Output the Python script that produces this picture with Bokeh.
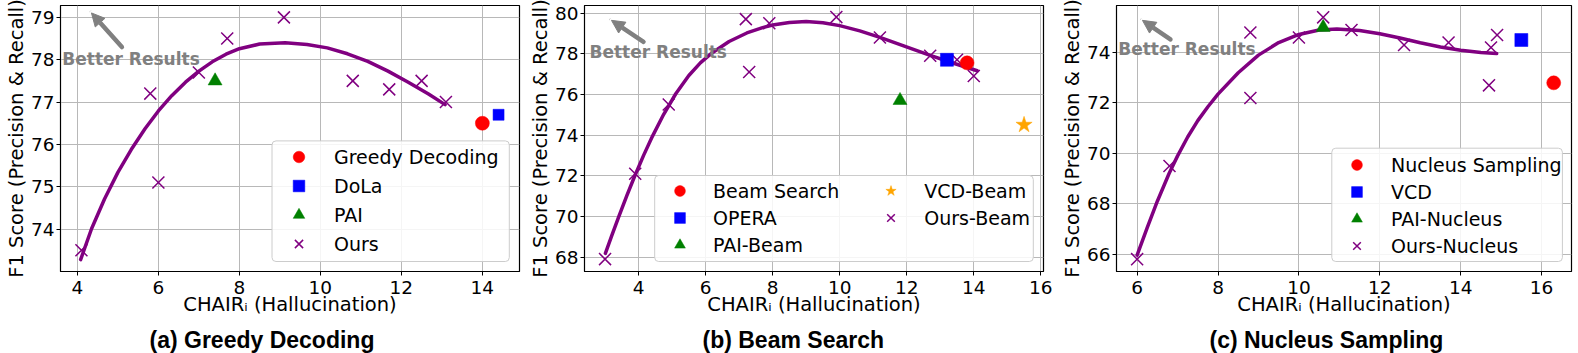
from bokeh.plotting import figure
from bokeh.layouts import row
from bokeh.models import (Range1d, FixedTicker, Label, Arrow, NormalHead, Title,
                          BoxAnnotation, Legend, LegendItem)
from bokeh.embed import file_html
from bokeh.resources import INLINE

# ---------------- (a) Greedy Decoding ----------------
a_x_ticks = [4, 6, 8, 10, 12, 14]
a_y_ticks = [74, 75, 76, 77, 78, 79]
a_greedy_x, a_greedy_y = [14.0], [76.5]
a_dola_x, a_dola_y = [14.4], [76.7]
a_pai_x, a_pai_y = [7.4], [77.5]
a_ours_x = [4.1, 5.8, 6.0, 7.0, 7.7, 9.1, 10.8, 11.7, 12.5, 13.1]
a_ours_y = [73.5, 77.2, 75.1, 77.7, 78.5, 79.0, 77.5, 77.3, 77.5, 77.0]
a_trend_x = [4.08, 4.35, 4.67, 5.0, 5.33, 5.67, 6.0, 6.33, 6.67, 7.0, 7.33, 7.67,
             8.0, 8.5, 9.13, 9.67, 10.17, 10.67, 11.17, 11.67, 12.17, 12.67, 13.08]
a_trend_y = [73.28, 74.01, 74.71, 75.34, 75.88, 76.37, 76.79, 77.15, 77.47, 77.73, 77.95, 78.13,
             78.26, 78.37, 78.40, 78.36, 78.28, 78.14, 77.96, 77.73, 77.47, 77.19, 76.94]

# ---------------- (b) Beam Search ----------------
b_x_ticks = [4, 6, 8, 10, 12, 14, 16]
b_y_ticks = [68, 70, 72, 74, 76, 78, 80]
b_beam_x, b_beam_y = [13.8], [77.55]
b_opera_x, b_opera_y = [13.2], [77.7]
b_pai_x, b_pai_y = [11.8], [75.7]
b_vcd_x, b_vcd_y = [15.5], [74.5]
b_ours_x = [3.0, 3.9, 4.9, 7.2, 7.3, 7.9, 9.9, 11.2, 12.7, 13.5, 14.0]
b_ours_y = [67.9, 72.1, 75.5, 79.7, 77.1, 79.5, 79.8, 78.8, 77.9, 77.7, 76.9]
b_trend_x = [3.01, 3.2, 3.41, 3.65, 3.88, 4.15, 4.42, 4.75, 5.11, 5.5, 5.85, 6.2, 6.7,
             7.23, 7.7, 8.0, 8.5, 9.0, 9.5, 10.0, 10.6, 11.2, 11.95, 12.7, 13.4, 14.1]
b_trend_y = [68.18, 69.05, 69.99, 71.02, 71.96, 73.0, 73.96, 75.02, 76.03, 76.93, 77.56, 78.05, 78.6,
             79.02, 79.28, 79.41, 79.53, 79.58, 79.52, 79.38, 79.12, 78.8, 78.36, 77.92, 77.53, 77.16]

# ---------------- (c) Nucleus Sampling ----------------
c_x_ticks = [6, 8, 10, 12, 14, 16]
c_y_ticks = [66, 68, 70, 72, 74]
c_nucleus_x, c_nucleus_y = [16.3], [72.8]
c_vcd_x, c_vcd_y = [15.5], [74.5]
c_pai_x, c_pai_y = [10.6], [75.0]
c_ours_x = [6.0, 6.8, 8.8, 8.8, 10.0, 10.6, 11.3, 12.6, 13.7, 14.7, 14.75, 14.9]
c_ours_y = [65.8, 69.5, 74.8, 72.2, 74.6, 75.4, 74.9, 74.3, 74.4, 72.7, 74.2, 74.7]
c_trend_x = [6.0, 6.25, 6.5, 6.79, 7.0, 7.25, 7.5, 7.75, 8.0, 8.5, 9.0, 9.5, 10.0, 10.5,
             10.94, 11.5, 12.0, 12.5, 13.0, 13.5, 14.0, 14.5, 14.89]
c_trend_y = [65.96, 67.05, 68.1, 69.2, 69.9, 70.65, 71.3, 71.85, 72.35, 73.2, 73.9, 74.4, 74.72, 74.9,
             74.94, 74.88, 74.75, 74.58, 74.39, 74.22, 74.09, 74.0, 73.96]

FONT = "DejaVu Sans"
PURPLE = "#800080"
GRAY = "#808080"
FH = 266          # frame height
REF_FH = 268.6    # reference frame height
REF_FW = 459.7    # reference frame width


def ty(y_from_top):
    return FH - y_from_top * FH / REF_FH


def make_panel(W, bl, br, xr, yr, xt, yt, trend, ours, ours_label, others,
               legend_groups, box, arrow, better, title, title_offset):
    p = figure(frame_width=W, frame_height=FH, title=None,
               x_range=Range1d(*xr), y_range=Range1d(*yr),
               output_backend="svg", toolbar_location=None,
               min_border_left=bl, min_border_right=br,
               min_border_top=5, min_border_bottom=10)
    p.background_fill_color = "white"
    p.border_fill_color = "white"
    p.outline_line_color = "black"
    p.outline_line_width = 1.2
    p.outline_line_alpha = 1.0

    p.xaxis.ticker = FixedTicker(ticks=xt)
    p.yaxis.ticker = FixedTicker(ticks=yt)
    for ax in (p.xaxis[0], p.yaxis[0]):
        ax.major_tick_in = 0
        ax.major_tick_out = 4
        ax.minor_tick_in = 0
        ax.minor_tick_out = 0
        ax.major_tick_line_color = "black"
        ax.axis_line_color = "black"
        ax.major_label_text_font = FONT
        ax.major_label_text_font_size = "18.5px"
        ax.major_label_text_color = "black"
    p.xaxis.major_label_standoff = 5
    p.yaxis.major_label_standoff = 2
    p.yaxis.axis_label = "F1 Score (Precision & Recall)"
    p.yaxis.axis_label_text_font = FONT
    p.yaxis.axis_label_text_font_size = "19.5px"
    p.yaxis.axis_label_text_font_style = "normal"
    p.yaxis.axis_label_text_color = "black"
    p.yaxis.axis_label_standoff = 0
    p.xaxis.axis_label = "CHAIR\u1d62 (Hallucination)"
    p.xaxis.axis_label_text_font = FONT
    p.xaxis.axis_label_text_font_size = "19.5px"
    p.xaxis.axis_label_text_font_style = "normal"
    p.xaxis.axis_label_text_color = "black"
    p.xaxis.axis_label_standoff = -4

    p.xgrid.grid_line_color = "#b8b8b8"
    p.ygrid.grid_line_color = "#b8b8b8"
    p.xgrid.grid_line_width = 1
    p.ygrid.grid_line_width = 1

    # trend curve
    p.line(trend[0], trend[1], line_color=PURPLE, line_width=3.5,
           line_join="round", line_cap="round")
    # ours
    r_ours = p.scatter(ours[0], ours[1], marker="x", size=17,
                       line_color=PURPLE, line_width=1.5)
    renderers = {ours_label: r_ours}
    for (label, xs, ys, marker, color, size) in others:
        r = p.scatter(xs, ys, marker=marker, size=size, fill_color=color,
                      line_color=color, line_width=0.5)
        renderers[label] = r

    # legend background box
    bx_l, bx_r, bx_b, bx_t = box
    p.add_layout(BoxAnnotation(left=W - bx_l, right=W - bx_r, bottom=bx_b, top=bx_t,
                               left_units="screen", right_units="screen",
                               top_units="screen", bottom_units="screen",
                               fill_color="white", fill_alpha=0.85,
                               line_color="#cccccc", line_width=1, line_alpha=1,
                               border_radius=4))
    for (labels, vx_r, vy, gh, standoff) in legend_groups:
        leg = Legend(items=[LegendItem(label=l, renderers=[renderers[l]]) for l in labels],
                     location=(W - vx_r, vy), orientation="vertical",
                     glyph_height=gh, glyph_width=gh, label_height=gh,
                     label_standoff=standoff, spacing=0, padding=0, margin=0,
                     border_line_alpha=0, background_fill_alpha=0,
                     label_text_font=FONT, label_text_font_size="19px",
                     label_text_color="black")
        p.add_layout(leg)

    # arrow + "Better Results"
    (hx, hy), (tx, tyy) = arrow
    sx = W / REF_FW
    p.add_layout(Arrow(end=NormalHead(size=13, fill_color=GRAY, line_color=GRAY, line_width=1),
                       x_start=tx * sx, y_start=ty(tyy), x_end=hx * sx, y_end=ty(hy),
                       start_units="screen", end_units="screen",
                       line_color=GRAY, line_width=4.5, line_cap="round"))
    bx, by = better
    p.add_layout(Label(x=bx, y=ty(by), x_units="screen", y_units="screen",
                       text="Better Results", text_align="left", text_baseline="middle",
                       text_font=FONT, text_font_style="bold", text_font_size="17px",
                       text_color=GRAY))

    # panel caption below the x-axis
    p.add_layout(Title(text=title, align="left", offset=title_offset, standoff=12,
                       text_font="Liberation Sans", text_font_style="bold",
                       text_font_size="23px", text_color="black"), "below")
    return p


pa = make_panel(
    459, 60, 5, (3.583, 14.917), (73.0, 79.28), a_x_ticks, a_y_ticks,
    (a_trend_x, a_trend_y), (a_ours_x, a_ours_y), "Ours",
    [("Greedy Decoding", a_greedy_x, a_greedy_y, "circle", "#ff0000", 14),
     ("DoLa", a_dola_x, a_dola_y, "square", "#0000ff", 11),
     ("PAI", a_pai_x, a_pai_y, "triangle", "#008000", 14)],
    [(["Greedy Decoding", "DoLa", "PAI", "Ours"], 235, 13, 29, 21)],
    (247.5, 10.2, 10, 130.6),
    ((31, 7.5), (61.5, 42)), (1.8, 53.6), "(a) Greedy Decoding", 89)

pb = make_panel(
    459, 60, 13, (2.387, 16.08), (67.29, 80.37), b_x_ticks, b_y_ticks,
    (b_trend_x, b_trend_y), (b_ours_x, b_ours_y), "Ours-Beam",
    [("Beam Search", b_beam_x, b_beam_y, "circle", "#ff0000", 14),
     ("OPERA", b_opera_x, b_opera_y, "square", "#0000ff", 13),
     ("PAI-Beam", b_pai_x, b_pai_y, "triangle", "#008000", 14),
     ("VCD-Beam", b_vcd_x, b_vcd_y, "star", "#ffa500", 17)],
    [(["Beam Search", "OPERA", "PAI-Beam"], 377, 13, 27, 20),
     (["VCD-Beam", "Ours-Beam"], 165.7, 40, 27, 20)],
    (388.8, 10.2, 10, 96),
    ((27, 15), (59.1, 36.7)), (5, 46.7), "(b) Beam Search", 118)

pc = make_panel(
    455, 60, 4, (5.49, 16.74), (65.31, 75.87), c_x_ticks, c_y_ticks,
    (c_trend_x, c_trend_y), (c_ours_x, c_ours_y), "Ours-Nucleus",
    [("Nucleus Sampling", c_nucleus_x, c_nucleus_y, "circle", "#ff0000", 14),
     ("VCD", c_vcd_x, c_vcd_y, "square", "#0000ff", 13),
     ("PAI-Nucleus", c_pai_x, c_pai_y, "triangle", "#008000", 14)],
    [(["Nucleus Sampling", "VCD", "PAI-Nucleus", "Ours-Nucleus"], 228, 12, 27, 21)],
    (239.7, 9.1, 10, 123.3),
    ((26.2, 15), (54.5, 34.3)), (1.7, 44), "(c) Nucleus Sampling", 93)

layout = row(pa, pb, pc)
open("out.html", "w").write(file_html(layout, INLINE))
